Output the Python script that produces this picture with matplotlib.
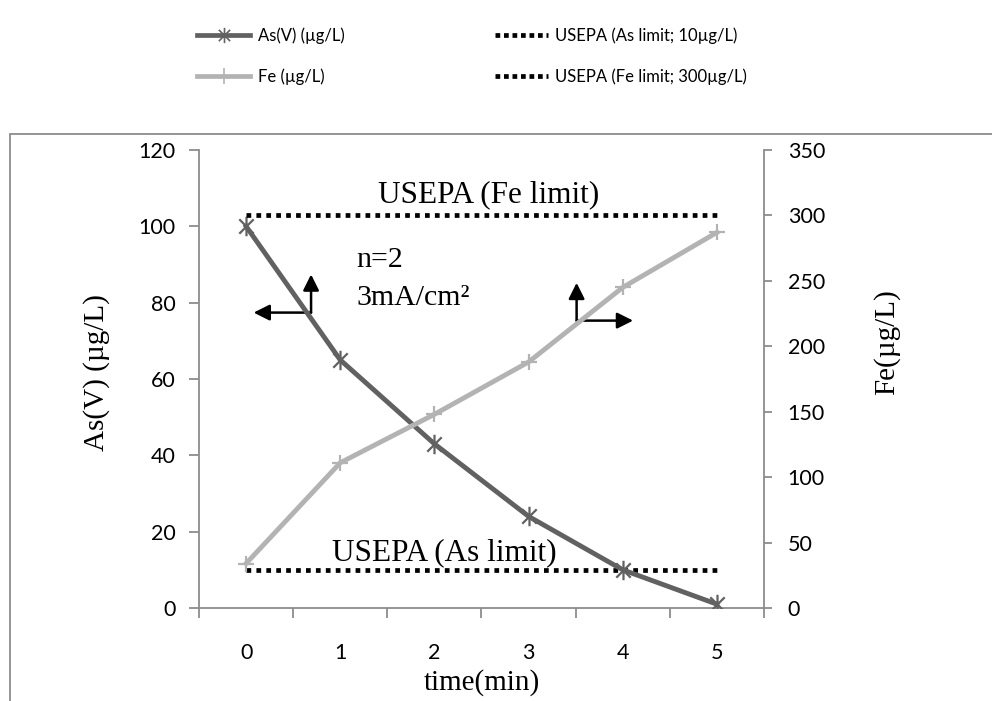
import matplotlib
matplotlib.use('Agg')
import matplotlib.pyplot as plt
import numpy as np
from matplotlib.path import Path
from matplotlib.patches import Rectangle
from matplotlib.lines import Line2D

time = [0, 1, 2, 3, 4, 5]
as_v = [100, 65, 43, 24, 10, 1]
fe = [34, 111, 148, 188, 245, 287]
as_limit = [10, 10, 10, 10, 10, 10]
fe_limit = [300, 300, 300, 300, 300, 300]

serif = 'Liberation Serif'
sans = 'Lato'
axis_grey = '#8c8c8c'
as_col = '#616161'
fe_col = '#b3b3b3'

# excel style star marker: x plus vertical bar
star = Path([(-1, -1), (1, 1), (-1, 1), (1, -1), (0, -1.35), (0, 1.35)],
            [Path.MOVETO, Path.LINETO, Path.MOVETO, Path.LINETO, Path.MOVETO, Path.LINETO])

fig = plt.figure(figsize=(9.92, 7.01), dpi=100)
ax = fig.add_axes([199/992, 1-608/701, 565/992, 458/701])
ax2 = ax.twinx()

fig.patches.append(Rectangle((10/992, -0.05), 1.1, 0.05 + 1-134/701, transform=fig.transFigure,
                             fill=False, edgecolor=axis_grey, lw=1.3))

ax.plot(time, as_limit, color='black', lw=3.4, linestyle=(0, (1, 1.1)), dash_capstyle='butt', zorder=3)
ax.plot(time, as_v, color=as_col, lw=3.5, marker=star, ms=14, mew=1.6, zorder=4)
ax2.plot(time, fe_limit, color='black', lw=3.4, linestyle=(0, (1, 1.1)), dash_capstyle='butt', zorder=3)
ax2.plot(time, fe, color=fe_col, lw=3.5, marker='+', ms=12, mew=1.6, zorder=2)

ax.set_xlim(-0.5, 5.5)
ax.set_ylim(0, 120)
ax2.set_ylim(0, 350)
ax.set_yticks(np.arange(0, 121, 20))
ax2.set_yticks(np.arange(0, 351, 50))
ax.set_xticks(time)
ax.set_xticks(np.arange(-0.5, 5.6, 1), minor=True)
ax.tick_params(axis='x', which='major', length=0, pad=25, labelsize=15.5)
ax.tick_params(axis='x', which='minor', length=7, width=1.3, color=axis_grey)
ax.tick_params(axis='y', length=7, width=1.3, color=axis_grey, pad=10, labelsize=15.5)
ax2.tick_params(axis='y', length=6, width=1.3, color=axis_grey, pad=11, labelsize=15.5)
for a in (ax, ax2):
    for lab in a.get_xticklabels() + a.get_yticklabels():
        lab.set_family(sans)
    a.spines['top'].set_visible(False)
    for s in ('left', 'right', 'bottom'):
        a.spines[s].set_color(axis_grey)
        a.spines[s].set_linewidth(1.3)
ax.spines['right'].set_visible(False)
ax2.spines['left'].set_visible(False)
ax2.spines['bottom'].set_visible(False)

ax.set_xlabel('time(min)', family=serif, fontsize=21, labelpad=2)
ax.set_ylabel('As(V) (µg/L)', family=serif, fontsize=21)
ax2.set_ylabel('Fe(µg/L)', family=serif, fontsize=21)
ax.xaxis.set_label_coords(0.5, -0.133)
ax.yaxis.set_label_coords(-0.158, 0.515)
ax2.yaxis.set_label_coords(1.193, 0.581)

ax.text(2.58, 106.4, 'USEPA (Fe limit)', family=serif, fontsize=22.5, ha='center', va='baseline')
ax.text(2.11, 12.6, 'USEPA (As limit)', family=serif, fontsize=22.5, ha='center', va='baseline')
ax.text(1.17, 89.3, 'n=2', family=serif, fontsize=21.5, va='baseline')
ax.text(1.17, 79.4, '3mA/cm²', family=serif, fontsize=21.5, va='baseline')

arr = dict(arrowstyle='-|>', color='black', lw=1.8, mutation_scale=24, shrinkA=0, shrinkB=0)
ax.annotate('', xy=(0.69, 87.4), xytext=(0.69, 77.4), arrowprops=arr)
ax.annotate('', xy=(0.08, 77.4), xytext=(0.69, 77.4), arrowprops=arr)
ax.annotate('', xy=(3.51, 85.2), xytext=(3.51, 75.3), arrowprops=arr)
ax.annotate('', xy=(4.11, 75.3), xytext=(3.51, 75.3), arrowprops=arr)

handles = [
    Line2D([], [], color=as_col, lw=3.4, marker=star, ms=11, mew=1.2),
    Line2D([], [], color=fe_col, lw=3.4, marker='+', ms=12, mew=1.2),
    Line2D([], [], color='black', lw=3.4, linestyle=(0, (1, 0.8)), dash_capstyle='butt'),
    Line2D([], [], color='black', lw=3.4, linestyle=(0, (1, 0.8)), dash_capstyle='butt'),
]
labels = ['As(V) (µg/L)', 'Fe (µg/L)', 'USEPA (As limit; 10µg/L)', 'USEPA (Fe limit; 300µg/L)']
fig.legend(handles, labels, loc='upper left', bbox_to_anchor=(182/992, 1-12/701), ncol=2,
           frameon=False, prop={'family': sans, 'size': 12}, handlelength=3.2,
           handletextpad=0.45, columnspacing=9.0, labelspacing=1.5, numpoints=1)

fig.savefig('out.png', dpi=100)
